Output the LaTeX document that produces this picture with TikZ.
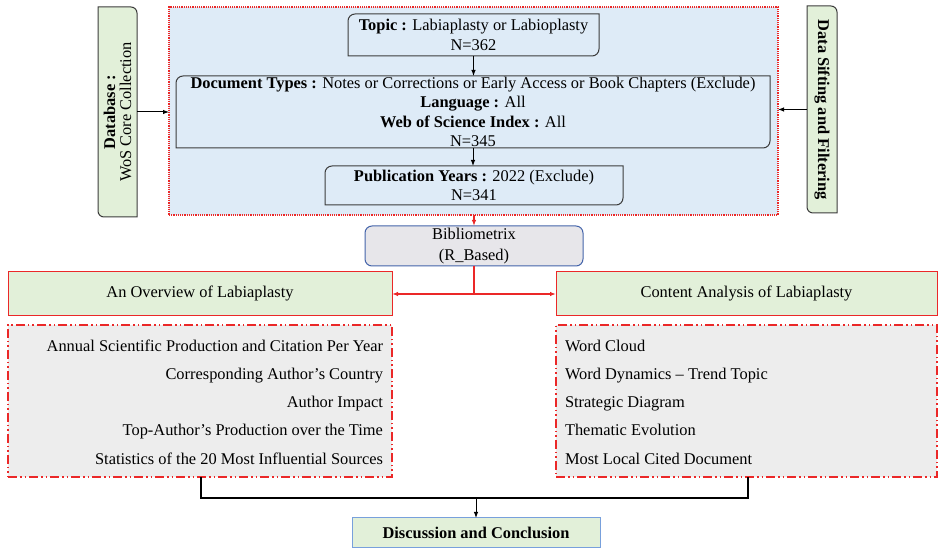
\documentclass[tikz,border=0pt]{standalone}
\usepackage{fontspec}
\setmainfont{Liberation Serif}
\usetikzlibrary{arrows.meta}
\definecolor{bgblue}{RGB}{222,235,247}
\definecolor{boxgreen}{RGB}{226,240,217}
\definecolor{boxgray}{RGB}{237,237,237}
\definecolor{bibgray}{RGB}{231,230,234}
\definecolor{bibblue}{RGB}{68,100,170}
\definecolor{discblue}{RGB}{120,160,220}
\definecolor{myred}{RGB}{235,40,40}
\definecolor{edgegray}{RGB}{60,60,60}
\begin{document}
\begin{tikzpicture}[x=1pt,y=1pt,
  font=\fontsize{16.4}{19.3}\selectfont,
  plain/.style={inner sep=0pt, outer sep=0pt, align=center},
  frame/.style={draw=edgegray, line width=1pt},
  greenbox/.style={fill=boxgreen, draw=edgegray, line width=1pt},
  arr/.style={-{Latex[length=6pt,width=4.5pt]}, line width=1pt, black},
  redarr/.style={-{Latex[length=6pt,width=4.5pt]}, line width=1.2pt, myred},
  listbox/.style={fill=boxgray, draw=myred, line width=1.6pt,
    dash pattern=on 9pt off 3pt on 1.5pt off 3pt on 1.5pt off 3pt},
  headbox/.style={fill=boxgreen, draw=myred, line width=1pt}]
\useasboundingbox (0,0) rectangle (938,549);

% outer filtering region
\node[plain, fill=bgblue, draw=myred, line width=1.2pt, densely dotted,
  minimum width=609pt, minimum height=208pt] (outer) at (473.5,438) {};

% side boxes
\node[plain, minimum width=39pt, minimum height=210pt] (db) at (117.5,437) {};
\filldraw[greenbox] (db.north west) -- ([xshift=-6pt]db.north east)
  arc[start angle=90,end angle=0,radius=6pt] -- (db.south east)
  -- ([xshift=6pt]db.south west) arc[start angle=270,end angle=180,radius=6pt] -- cycle;
\node[plain, rotate=90, font=\fontsize{16.4}{16}\selectfont] (dbtext) at (db)
  {\textbf{Database :}\\WoS Core Collection};

\node[plain, minimum width=30pt, minimum height=207pt] (sift) at (822,439.5) {};
\filldraw[greenbox] (sift.north west) -- ([xshift=-6pt]sift.north east)
  arc[start angle=90,end angle=0,radius=6pt] -- (sift.south east)
  -- ([xshift=6pt]sift.south west) arc[start angle=270,end angle=180,radius=6pt] -- cycle;
\node[plain, rotate=-90] (sifttext) at (sift) {\textbf{Data Sifting and Filtering}};

% filter steps
\node[plain, minimum width=251pt, minimum height=42pt] (topic) at (473.5,514)
  {\textbf{Topic :} Labiaplasty or Labioplasty\\N=362};
\draw[frame] ([yshift=-7pt]topic.north west) arc[start angle=180,end angle=90,radius=7pt]
  -- (topic.north east) -- ([yshift=7pt]topic.south east)
  arc[start angle=0,end angle=-90,radius=7pt] -- (topic.south west) -- cycle;

\node[plain, minimum width=594pt, minimum height=72pt] (doc) at (473,437)
  {\textbf{Document Types :} Notes or Corrections or Early Access or Book Chapters (Exclude)\\
   \textbf{Language :} All\\ \textbf{Web of Science Index :} All\\ N=345};
\draw[frame] ([yshift=-7pt]doc.north west) arc[start angle=180,end angle=90,radius=7pt]
  -- (doc.north east) -- ([yshift=7pt]doc.south east)
  arc[start angle=0,end angle=-90,radius=7pt] -- (doc.south west) -- cycle;

\node[plain, minimum width=298pt, minimum height=39pt] (pub) at (474,363.5)
  {\textbf{Publication Years :} 2022 (Exclude)\\N=341};
\draw[frame] ([yshift=-7pt]pub.north west) arc[start angle=180,end angle=90,radius=7pt]
  -- (pub.north east) -- ([yshift=7pt]pub.south east)
  arc[start angle=0,end angle=-90,radius=7pt] -- (pub.south west) -- cycle;

% bibliometrix
\node[plain, fill=bibgray, draw=bibblue, line width=1pt, rounded corners=7pt,
  minimum width=218pt, minimum height=40pt, font=\fontsize{16.4}{21}\selectfont]
  (bib) at (474,303) {Bibliometrix\\(R\_Based)};

% headers
\node[plain, headbox, minimum width=384pt, minimum height=44pt] (ov) at (200,255)
  {An Overview of Labiaplasty};
\node[plain, headbox, minimum width=381pt, minimum height=44pt] (ca) at (746.5,255)
  {Content Analysis of Labiaplasty};

% lists
\node[plain, listbox, minimum width=384pt, minimum height=152pt] (ovlist) at (200,148) {};
\node[plain, align=right, anchor=east, font=\fontsize{16.4}{28.3}\selectfont] (ovitems) at (383,147)
  {Annual Scientific Production and Citation Per Year\\
   Corresponding Author's Country\\
   Author Impact\\
   Top-Author's Production over the Time\\
   Statistics of the 20 Most Influential Sources};
\node[plain, listbox, minimum width=381pt, minimum height=152pt] (calist) at (746.5,148) {};
\node[plain, align=left, anchor=west, font=\fontsize{16.4}{28.3}\selectfont] (caitems) at (565,147)
  {Word Cloud\\
   Word Dynamics -- Trend Topic\\
   Strategic Diagram\\
   Thematic Evolution\\
   Most Local Cited Document};

% conclusion
\node[plain, fill=boxgreen, draw=discblue, line width=1pt, minimum width=248pt,
  minimum height=30pt] (disc) at (476,16) {\textbf{Discussion and Conclusion}};

% connectors
\draw[arr] (topic.south) -- (topic.south |- doc.north);
\draw[arr] (doc.south) -- (doc.south |- pub.north);
\draw[arr] (db.east) -- (db.east -| outer.west);
\draw[arr] (sift.west) -- (sift.west -| outer.east);
\draw[redarr] (outer.south -| bib.north) -- (bib.north);
\draw[redarr] (bib.south) |- (ov.east);
\draw[redarr] (bib.south) |- (ca.west);

\coordinate (bl) at (201,51);
\coordinate (br) at (748,51);
\draw[line width=1.2pt, black] (ovlist.south -| bl) -- (bl) -- (br) -- (calist.south -| br);
\draw[arr] (bl -| disc.north) -- (disc.north);
\end{tikzpicture}
\end{document}
